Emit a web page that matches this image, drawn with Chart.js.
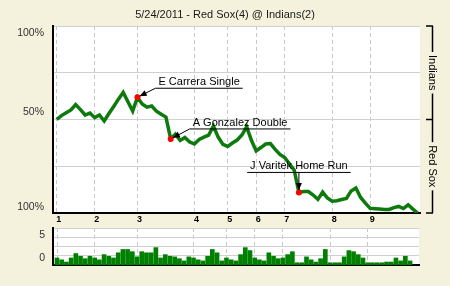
<!DOCTYPE html>
<html>
<head>
<meta charset="utf-8">
<script src="https://cdn.jsdelivr.net/npm/chart.js@4.4.0/dist/chart.umd.min.js"></script>
<style>
  html, body { margin: 0; padding: 0; background: #f4f2dc; }
  #wrap { position: relative; width: 450px; height: 286px; overflow: hidden; }
  canvas { position: absolute; left: 0; }
  #wp { top: 0; }
  #lev { top: 224px; }
</style>
</head>
<body>
<div id="wrap">
  <canvas id="wp" width="450" height="224"></canvas>
  <canvas id="lev" width="450" height="62"></canvas>
</div>
<script>
const title = '5/24/2011 - Red Sox(4) @ Indians(2)';
const teams = ['Indians', 'Red Sox'];

// innings and the play number each one starts at
const innings = ['1', '2', '3', '4', '5', '6', '7', '8', '9'];
const inningStart = [0, 8, 17, 29, 36, 42, 48, 58, 66];

// Indians win probability (%) before the first play and after each play
const winPct = [
  50, 52.1, 53.6, 55.1, 58.0, 55.3, 52.4, 53.5, 51.0, 52.4,
  49.2, 53.2, 57.0, 60.9, 64.5, 59.5, 54.5, 61.9, 58.3, 56.6,
  57.2, 54.5, 52.8, 51.3, 39.6, 42.2, 38.8, 40.4, 38.0, 36.9,
  39.3, 40.6, 41.7, 46.5, 40.6, 36.7, 35.6, 37.4, 39.0, 41.7,
  46.1, 38.9, 33.2, 35.0, 36.9, 37.1, 34.0, 31.3, 29.7, 26.3,
  23.0, 11.0, 11.5, 11.5, 9.6, 7.3, 11.2, 8.0, 6.3, 6.6,
  7.2, 7.8, 11.8, 13.4, 8.3, 5.3, 2.5, 2.3, 2.1, 1.9,
  1.9, 2.9, 3.5, 2.4, 4.4, 2.1, 0
];

// leverage of each play (bar panel)
const leverage = [
  -0.6, -1.1, -1.7, -0.6, 0.6, 0.0, -0.8, 0.0, -0.6, -1.1,
  0.3, 0.0, -0.6, 0.8, 1.7, 1.7, 1.1, -0.3, 1.1, 0.8,
  0.8, 2.2, -0.6, 0.3, 0.0, -0.3, -0.8, -1.4, -0.3, -0.6,
  -1.1, -1.4, 0.0, 1.7, 0.8, -1.4, -0.6, -1.1, -1.4, 0.3,
  2.2, 1.4, -0.6, -1.1, -1.4, 0.8, 0.0, -0.8, -0.6, 0.3,
  1.1, -1.9, -1.9, -0.3, -1.1, -1.7, -0.8, 1.7, -1.9, -1.9,
  -1.9, -0.3, 1.4, 1.1, 0.3, -0.6, -1.9, -1.9, -1.9, -1.9,
  -1.7, -1.7, -0.6, -1.4, 0.0, -1.4
];
const levFloor = -2.5;

// key plays (index into winPct) and their captions
const keyPlays = [17, 24, 51];
const keyText = ['E Carrera Single', 'A Gonzalez Double', 'J Varitek Home Run'];

const wpTicks = [0, 25, 50, 75, 100];
const wpTickText = { 100: '100%', 50: '50%', 0: '100%' };
const levTicks = [-2.5, 0, 2.5, 5, 7.5];
const levTickText = { 5: '5', 0: '0' };

const FONT = '"Liberation Sans", Arial, sans-serif';
const GREEN = '#0e7a0e';

function line(ctx, x1, y1, x2, y2) {
    ctx.beginPath();
    ctx.moveTo(x1, y1);
    ctx.lineTo(x2, y2);
    ctx.stroke();
}

function arrow(ctx, x1, y1, x2, y2) {
    const ang = Math.atan2(y2 - y1, x2 - x1);
    // stop at the edge of the red dot
    const tx = x2 - Math.cos(ang) * 2.5, ty = y2 - Math.sin(ang) * 2.5;
    line(ctx, x1, y1, tx, ty);
    ctx.beginPath();
    ctx.moveTo(tx, ty);
    ctx.lineTo(tx - 7 * Math.cos(ang) + 3 * Math.sin(ang), ty - 7 * Math.sin(ang) - 3 * Math.cos(ang));
    ctx.lineTo(tx - 7 * Math.cos(ang) - 3 * Math.sin(ang), ty - 7 * Math.sin(ang) + 3 * Math.cos(ang));
    ctx.closePath();
    ctx.fill();
}

const whiteArea = {
    id: 'whiteArea',
    beforeDraw(chart) {
        const { ctx, chartArea: a } = chart;
        ctx.save();
        ctx.fillStyle = '#fff';
        ctx.fillRect(a.left, a.top, a.right - a.left, a.bottom - a.top);
        ctx.restore();
    }
};

// callout layout for the key plays
const callouts = [
    { dx: 18, dy: -9, align: 'left' },
    { dx: 19, dy: -10, align: 'left' },
    { dx: 0, dy: -20, align: 'center' }
];
const wpNudge = { 100: 7, 50: -7, 0: -6 };

const wpDecor = {
    id: 'wpDecor',
    afterDraw(chart) {
        const { ctx } = chart;
        const y = chart.scales.y;
        ctx.save();

        // title
        ctx.fillStyle = '#1a1a1a';
        ctx.font = '11px ' + FONT;
        ctx.textAlign = 'center';
        ctx.textBaseline = 'middle';
        ctx.fillText(title, 225, 15);

        // y labels
        ctx.font = '10.5px ' + FONT;
        ctx.fillStyle = '#333';
        ctx.textAlign = 'right';
        Object.keys(wpTickText).forEach(v => {
            ctx.fillText(wpTickText[v], 44, y.getPixelForValue(+v) + wpNudge[v]);
        });

        // team bracket on the right
        const bx = 432.5;
        const yTop = y.getPixelForValue(100), yMid = y.getPixelForValue(50), yBot = y.getPixelForValue(0);
        ctx.strokeStyle = '#000';
        ctx.lineWidth = 1.5;
        [yTop, yMid, yBot].forEach(py => line(ctx, 426, py, 433, py));
        ctx.font = '11px ' + FONT;
        ctx.fillStyle = '#000';
        ctx.textAlign = 'center';
        [[yTop, yMid, teams[0]], [yMid, yBot, teams[1]]].forEach(([a, b, t]) => {
            const c = (a + b) / 2;
            const half = ctx.measureText(t).width / 2 + 3;
            line(ctx, bx, a, bx, c - half);
            line(ctx, bx, c + half, bx, b);
            ctx.save();
            ctx.translate(bx, c);
            ctx.rotate(Math.PI / 2);
            ctx.fillText(t, 0, 0);
            ctx.restore();
        });

        // key play callouts
        const meta = chart.getDatasetMeta(0);
        ctx.lineWidth = 1;
        ctx.textBaseline = 'alphabetic';
        keyPlays.forEach((idx, n) => {
            const p = meta.data[idx];
            const c = callouts[n];
            const w = ctx.measureText(keyText[n]).width;
            const uy = p.y + c.dy;
            if (c.align === 'left') {
                const ux = p.x + c.dx;
                ctx.textAlign = 'left';
                ctx.fillText(keyText[n], ux + 3, uy - 3);
                line(ctx, ux, uy, ux + w + 6, uy);
                arrow(ctx, ux, uy, p.x, p.y);
            } else {
                ctx.textAlign = 'center';
                ctx.fillText(keyText[n], p.x, uy - 3);
                line(ctx, p.x - w / 2 - 3, uy, p.x + w / 2 + 3, uy);
                arrow(ctx, p.x, uy, p.x, p.y);
            }
        });
        ctx.restore();
    }
};

const levNudge = { 5: -2, 0: 2.5 };
const levDecor = {
    id: 'levDecor',
    afterDraw(chart) {
        const { ctx } = chart;
        const y = chart.scales.y;
        ctx.save();
        ctx.font = '10.5px ' + FONT;
        ctx.fillStyle = '#333';
        ctx.textAlign = 'right';
        ctx.textBaseline = 'middle';
        Object.keys(levTickText).forEach(v => {
            ctx.fillText(levTickText[v], 45, y.getPixelForValue(+v) + levNudge[v]);
        });
        ctx.restore();
    }
};

function inningAxis(min, max, showLabels) {
    return {
        type: 'linear',
        min: min,
        max: max,
        offset: false,
        afterBuildTicks: s => { s.ticks = inningStart.map(v => ({ value: v })); },
        afterFit: s => { s.height = showLabels ? 11 : 0; },
        grid: { color: '#c8c8c8', lineWidth: 1, drawTicks: false, offset: false },
        border: { color: '#000', width: 2, dash: [4, 3] },
        ticks: {
            display: showLabels,
            autoSkip: false,
            maxRotation: 0,
            padding: 1,
            labelOffset: 2,
            color: '#000',
            font: { family: FONT, size: 9, weight: 'bold' },
            callback: v => innings[inningStart.indexOf(v)]
        }
    };
}

const wpChart = new Chart(document.getElementById('wp'), {
    type: 'line',
    data: {
        datasets: [{
            data: winPct.map((v, k) => ({ x: k, y: v })),
            borderColor: GREEN,
            borderWidth: 3.5,
            tension: 0,
            pointRadius: c => keyPlays.includes(c.dataIndex) ? 3 : 0,
            pointBackgroundColor: '#ff0000',
            pointBorderWidth: 0
        }]
    },
    options: {
        responsive: false,
        animation: false,
        events: [],
        layout: { padding: { top: 26, right: 30, left: 0, bottom: 0 } },
        scales: {
            x: inningAxis(-0.78, 76.5, true),
            y: {
                min: 0,
                max: 100,
                afterBuildTicks: s => { s.ticks = wpTicks.map(v => ({ value: v })); },
                afterFit: s => { s.width = 53; },
                grid: { color: '#d0d0d0', lineWidth: 1, drawTicks: false },
                border: { color: '#000', width: 2 },
                ticks: { display: false }
            }
        },
        plugins: { legend: { display: false }, tooltip: { enabled: false } }
    },
    plugins: [whiteArea, wpDecor]
});

const levChart = new Chart(document.getElementById('lev'), {
    type: 'bar',
    data: {
        datasets: [{
            data: leverage.map((v, i) => ({ x: i, y: [levFloor, v] })),
            backgroundColor: '#008000',
            borderWidth: 0,
            barThickness: 4
        }]
    },
    options: {
        responsive: false,
        animation: false,
        events: [],
        layout: { padding: { top: 4, right: 31, left: 0, bottom: 21 } },
        scales: {
            x: inningAxis(-0.85, 76.9, false),
            y: {
                min: -2.5,
                max: 7.5,
                afterBuildTicks: s => { s.ticks = levTicks.map(v => ({ value: v })); },
                afterFit: s => { s.width = 53; },
                grid: { color: '#d0d0d0', lineWidth: 1, drawTicks: false },
                border: { color: '#000', width: 2 },
                ticks: { display: false }
            }
        },
        plugins: { legend: { display: false }, tooltip: { enabled: false } }
    },
    plugins: [whiteArea, levDecor]
});
</script>
</body>
</html>
